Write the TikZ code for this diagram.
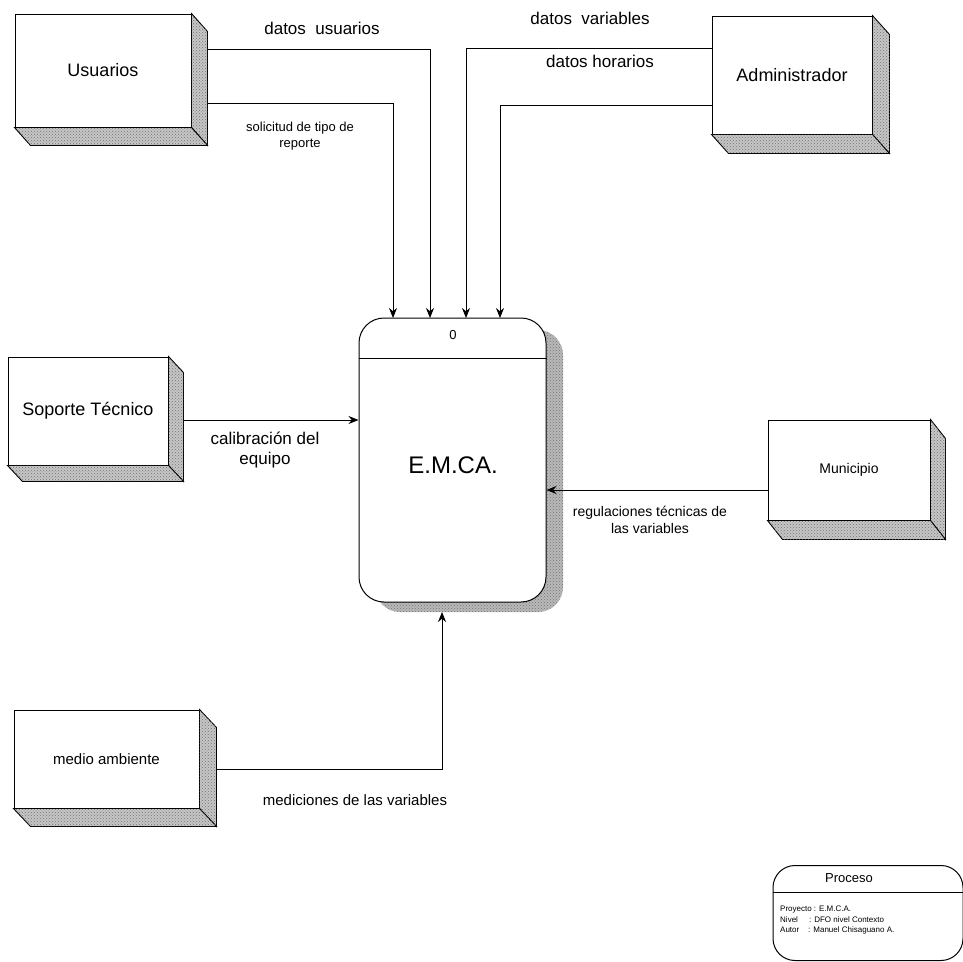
\documentclass[tikz,border=0pt]{standalone}
\usepackage{fontspec}
\setmainfont{Liberation Sans}
\usetikzlibrary{calc,arrows.meta,patterns}
\tikzset{
  entbox/.style={draw, line width=1pt, fill=white, inner sep=0pt, align=center},
  sidefill/.style={draw, line width=0.9pt, fill=gray!45,
    postaction={pattern=crosshatch dots, pattern color=black!55}},
  flow/.style={line width=0.9pt, -{Stealth[length=10pt,width=8pt]}},
  lbl/.style={inner sep=1pt, align=center},
}
% 3-D edge of an external entity: right side and bottom strip
\newcommand\entdepth[3]{%
  \filldraw[sidefill] (#1.north east) -- ++(#2,#3) -- ($(#1.south east)+(#2,#3)$) -- (#1.south east) -- cycle;
  \filldraw[sidefill] (#1.south west) -- ++(#2,#3) -- ($(#1.south east)+(#2,#3)$) -- (#1.south east) -- cycle;}
\begin{document}
\begin{tikzpicture}[x=1pt,y=-1pt]
\useasboundingbox (0,0) rectangle (963,961);
\fill[white] (0,0) rectangle (963,961);

% external entities
\node[entbox, minimum width=176, minimum height=113, font=\fontsize{18}{20}\selectfont] (usu) at (103,70.5) {Usuarios};
\entdepth{usu}{16}{18}
\node[entbox, minimum width=160, minimum height=118, font=\fontsize{18}{20}\selectfont] (adm) at (792,75) {Administrador};
\entdepth{adm}{17}{19}
\node[entbox, minimum width=160, minimum height=108, font=\fontsize{18}{20}\selectfont] (sop) at (88,411) {Soporte Técnico};
\entdepth{sop}{15}{16}
\node[entbox, minimum width=162, minimum height=100, font=\fontsize{14}{16}\selectfont] (mun) at (849,470) {Municipio};
\entdepth{mun}{15}{19}
\node[entbox, minimum width=185, minimum height=98, font=\fontsize{15}{17}\selectfont] (med) at (106.5,759) {medio ambiente};
\entdepth{med}{17}{18}

% process with its shadow
\fill[gray!55, rounded corners=25pt, postaction={pattern=crosshatch dots, pattern color=black!55}]
  (375,330) rectangle (563,612);
\node[draw, line width=1pt, fill=white, rounded corners=25pt, minimum width=187, minimum height=284, inner sep=0pt] (emca) at (452.5,460) {};
\draw[line width=1pt] (emca.west |- 0,358) coordinate (dl) -- (emca.east |- 0,358) coordinate (dr);
\node[font=\fontsize{13}{15}\selectfont] (pid) at (453,335) {0};
\node[font=\fontsize{24}{26}\selectfont] (pname) at (453,465) {E.M.CA.};

% data flows
\coordinate (t1) at (393,318);
\coordinate (t2) at (430,318);
\coordinate (t3) at (466,318);
\coordinate (t4) at (500,318);
\draw[flow] (usu.east |- 0,49) ++(16,0) -| (t2);
\draw[flow] (usu.east |- 0,103) ++(16,0) -| (t1);
\draw[flow] (adm.west |- 0,48) -| (t3);
\draw[flow] (adm.west |- 0,105) -| (t4);
\draw[flow] (sop.east |- 0,420) ++(15,0) -- (emca.west |- 0,420);
\draw[flow] (mun.west |- 0,490) -- (emca.east |- 0,490);
\draw[flow] (med.east |- 0,769) ++(17,0) -| (442,612);

\node[lbl, font=\fontsize{17}{19}\selectfont] (l1) at (322,28) {datos\ \ usuarios};
\node[lbl, font=\fontsize{17}{19}\selectfont] (l2) at (590,18) {datos\ \ variables};
\node[lbl, font=\fontsize{17}{19}\selectfont] (l3) at (600,61) {datos horarios};
\node[lbl, font=\fontsize{13}{16}\selectfont] (l4) at (300,136) {solicitud de tipo de\\reporte};
\node[lbl, font=\fontsize{17}{20}\selectfont] (l5) at (265,450) {calibración del\\equipo};
\node[lbl, font=\fontsize{14}{17}\selectfont] (l6) at (650,520) {regulaciones técnicas de\\las variables};
\node[lbl, font=\fontsize{15}{17}\selectfont] (l7) at (355,800) {mediciones de las variables};

% legend
\node[draw, line width=1pt, rounded corners=22pt, minimum width=190, minimum height=95, inner sep=0pt] (leg) at (868,913) {};
\draw[line width=1pt] (leg.west |- 0,892) -- (leg.east |- 0,892);
\node[font=\fontsize{13}{15}\selectfont] (legt) at (849,878) {Proceso};
\node[anchor=north west, align=left, inner sep=0pt, font=\fontsize{8}{10.5}\selectfont] (legb) at (780,906)
  {Proyecto\ : E.M.C.A.\\Nivel\ \ \ \ \ : DFO nivel Contexto\\Autor\ \ \ \ : Manuel Chisaguano A.};
\end{tikzpicture}
\end{document}
